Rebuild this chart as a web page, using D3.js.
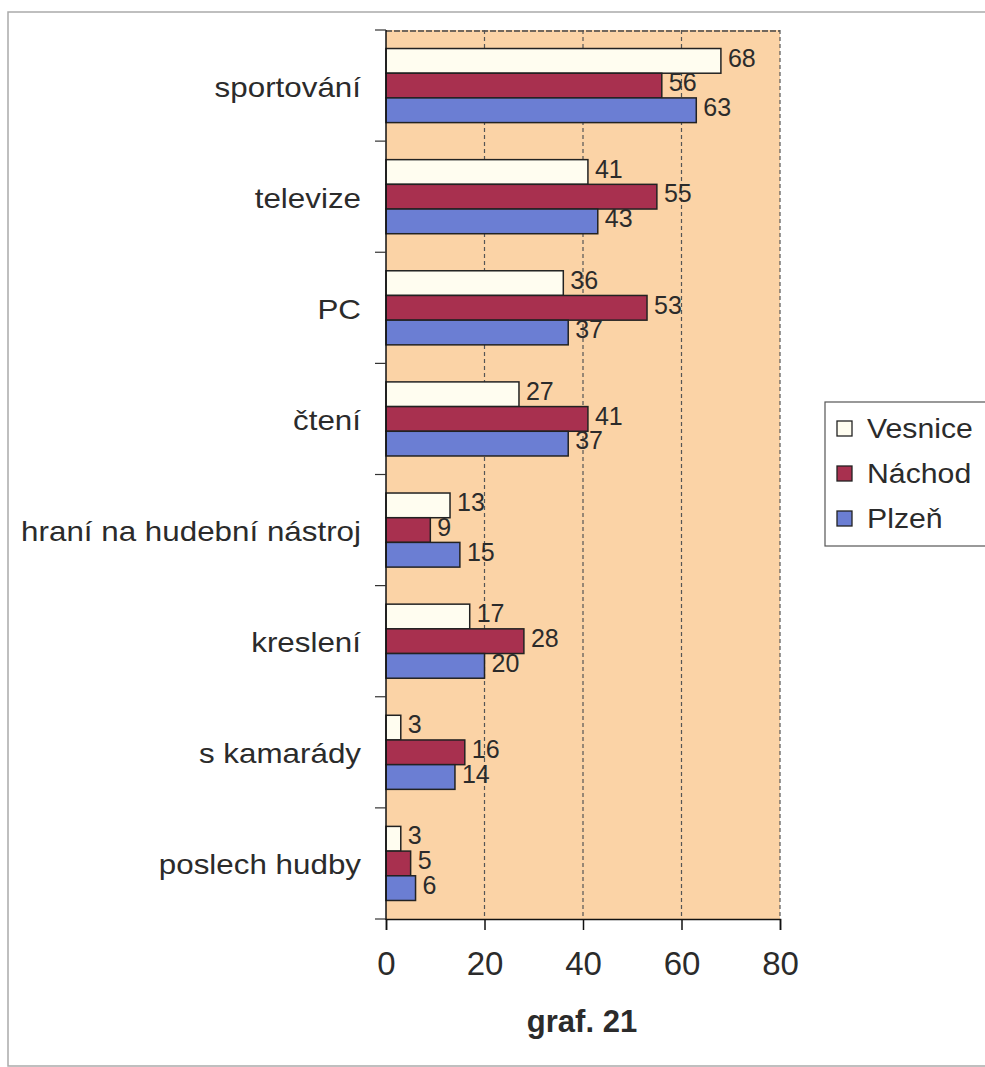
<!DOCTYPE html>
<html>
<head>
<meta charset="utf-8">
<script src="https://cdn.jsdelivr.net/npm/d3@7"></script>
<style>
  body { margin: 0; background: #fff; }
  text { font-family: "Liberation Sans", Arial, sans-serif; }
</style>
</head>
<body>
<div id="root"></div>
<script>
const categories = ["sportování", "televize", "PC", "čtení", "hraní na hudební nástroj", "kreslení", "s kamarády", "poslech hudby"];
const series = ["Vesnice", "Náchod", "Plzeň"];
const vesnice = [68, 41, 36, 27, 13, 17, 3, 3];
const nachod = [56, 55, 53, 41, 9, 28, 16, 5];
const plzen = [63, 43, 37, 37, 15, 20, 14, 6];
const xTicks = [0, 20, 40, 60, 80];
const colors = ["#fffdf0", "#a8304f", "#6b7ed3"];
const values = [vesnice, nachod, plzen];

const width = 985, height = 1067;
const svg = d3.select("#root").append("svg")
  .attr("width", width)
  .attr("height", height);

// outer frame
svg.append("rect")
  .attr("x", 8).attr("y", 12)
  .attr("width", 1000).attr("height", 1054)
  .attr("fill", "none").attr("stroke", "#aaa").attr("stroke-width", 1.5);

const x = d3.scaleLinear().domain([0, 80]).range([386, 780]);
const y = d3.scaleBand().domain(categories).range([30, 919]);
const ySub = d3.scaleBand().domain(series).range([0, y.bandwidth()]).paddingOuter(0.75);

// plot background
svg.append("rect")
  .attr("x", x(0)).attr("y", 30)
  .attr("width", x(80) - x(0)).attr("height", 919 - 30)
  .attr("fill", "#fbd3a6");

// top edge
svg.append("line")
  .attr("x1", x(0)).attr("x2", x(80)).attr("y1", 31).attr("y2", 31)
  .attr("stroke", "#444").attr("stroke-width", 1.5).attr("stroke-dasharray", "6,2");

// gridlines
svg.append("g")
  .selectAll("line")
  .data(xTicks.slice(1))
  .enter()
  .append("line")
  .attr("x1", (d) => x(d)).attr("x2", (d) => x(d))
  .attr("y1", 30).attr("y2", 919)
  .attr("stroke", "#555")
  .attr("stroke-width", 1.2)
  .attr("stroke-dasharray", "4,3");

// bars
const groups = svg.append("g")
  .selectAll("g")
  .data(categories)
  .enter()
  .append("g")
  .attr("transform", (d) => `translate(0,${y(d)})`);

series.forEach((s, si) => {
  groups.append("rect")
    .attr("x", x(0))
    .attr("y", ySub(s))
    .attr("width", (d, i) => x(values[si][i]) - x(0))
    .attr("height", ySub.bandwidth())
    .attr("fill", colors[si])
    .attr("stroke", "#222")
    .attr("stroke-width", 1.5);

  groups.append("text")
    .attr("x", (d, i) => x(values[si][i]) + 7)
    .attr("y", ySub(s) + ySub.bandwidth() / 2 - 3)
    .attr("dy", "0.35em")
    .attr("font-size", 25)
    .attr("fill", "#2b2b2b")
    .text((d, i) => values[si][i]);
});

// left axis
svg.append("line")
  .attr("x1", x(0)).attr("x2", x(0)).attr("y1", 30).attr("y2", 920)
  .attr("stroke", "#111").attr("stroke-width", 1.5);
svg.append("g")
  .selectAll("line")
  .data(d3.range(categories.length + 1))
  .enter()
  .append("line")
  .attr("x1", x(0) - 11).attr("x2", x(0))
  .attr("y1", (d) => 30 + d * y.step()).attr("y2", (d) => 30 + d * y.step())
  .attr("stroke", "#333").attr("stroke-width", 1.2);

// category labels
svg.append("g")
  .selectAll("text")
  .data(categories)
  .enter()
  .append("text")
  .attr("transform", (d) => `translate(361,${y(d) + y.bandwidth() / 2 + 11}) scale(1.12,1)`)
  .attr("text-anchor", "end")
  .attr("font-size", 28)
  .attr("fill", "#2b2b2b")
  .text((d) => d);

// bottom axis
const xAxis = d3.axisBottom(x).tickValues(xTicks).tickSize(11).tickPadding(22);
const xg = svg.append("g").attr("transform", "translate(0,919)").call(xAxis);
xg.select(".domain").attr("stroke", "#111").attr("stroke-width", 1.5);
xg.selectAll(".tick line").attr("stroke", "#111").attr("stroke-width", 1.5);
xg.selectAll(".tick text")
  .attr("font-size", 33)
  .attr("font-family", "Liberation Sans, Arial, sans-serif")
  .attr("fill", "#2b2b2b");

// title
svg.append("text")
  .attr("x", 582).attr("y", 1032)
  .attr("text-anchor", "middle")
  .attr("font-size", 31)
  .attr("font-weight", "bold")
  .attr("fill", "#2b2b2b")
  .text("graf. 21");

// legend
const legend = svg.append("g").attr("transform", "translate(825,402)");
legend.append("rect")
  .attr("width", 180).attr("height", 144)
  .attr("fill", "#fff").attr("stroke", "#555").attr("stroke-width", 1.2);
const items = legend.selectAll("g")
  .data(series)
  .enter()
  .append("g")
  .attr("transform", (d, i) => `translate(0,${26 + i * 45})`);
items.append("rect")
  .attr("x", 12).attr("y", -7)
  .attr("width", 15).attr("height", 15)
  .attr("fill", (d, i) => colors[i])
  .attr("stroke", "#222").attr("stroke-width", 1.3);
items.append("text")
  .attr("transform", "translate(42,10) scale(1.12,1)")
  .attr("font-size", 27)
  .attr("fill", "#2b2b2b")
  .text((d) => d);
</script>
</body>
</html>
